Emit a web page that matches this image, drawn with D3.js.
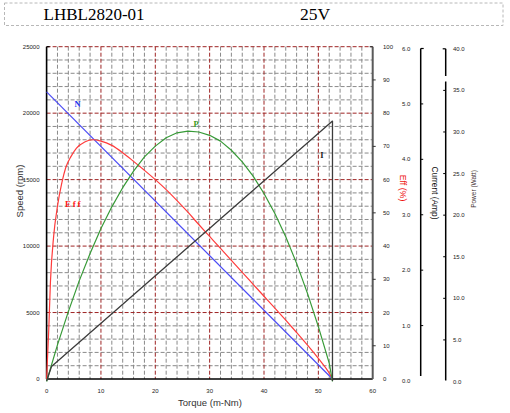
<!DOCTYPE html>
<html>
<head>
<meta charset="utf-8">
<script src="https://cdn.jsdelivr.net/npm/d3@7/dist/d3.min.js"></script>
<style>
  html, body { margin: 0; padding: 0; background: #fff; }
  svg { display: block; }
  text { font-family: "Liberation Sans", Arial, sans-serif; }
</style>
</head>
<body>
<svg id="chart" width="510" height="413"></svg>
<script>
// ---------------- data ----------------
const titleModel = "LHBL2820-01";
const titleVoltage = "25V";

const torqueTicks = [0, 10, 20, 30, 40, 50, 60];
const speedTicks = [0, 5000, 10000, 15000, 20000, 25000];
const effTicks = [0, 10, 20, 30, 40, 50, 60, 70, 80, 90, 100];
const currentTicks = [0, 1, 2, 3, 4, 5, 6];
const powerTicks = [0, 5, 10, 15, 20, 25, 30, 35, 40];

// Speed (N) vs torque
const torqueSpeed = [0, 52.6];
const speedValues = [21600, 0];

// Efficiency (Eff, %) vs torque
const torqueEff = [0, 0.4, 0.7, 1.3, 2, 2.8, 3.5, 4.5, 5.5, 7, 8.5, 10, 12, 14, 16, 18, 20, 22, 24, 26, 28, 30, 32, 34, 36, 38, 40, 42, 44, 46, 48, 50, 52, 52.6];
const effValues = [0, 15, 29, 43, 52, 59, 63.5, 67, 69.5, 71.3, 72, 71.6, 70.3, 68.1, 65.5, 62.8, 60.0, 57.0, 53.7, 50.2, 46.5, 42.9, 39.3, 35.7, 32.1, 28.5, 24.9, 21.3, 17.7, 14.0, 10.2, 6.2, 1.8, 0];

// Output power (P, Watt) vs torque
const torquePower = [0, 2, 4, 6, 8, 10, 12, 14, 16, 18, 20, 22, 24, 26, 28, 30, 32, 34, 36, 38, 40, 42, 44, 46, 48, 50, 52, 52.6];
const powerValues = [0, 4.4, 8.4, 12.1, 15.4, 18.4, 21, 23.3, 25.3, 27, 28.3, 29.3, 29.9, 30.1, 30, 29.6, 28.9, 27.8, 26.4, 24.7, 22.6, 20.2, 17.4, 14.2, 10.6, 6.6, 2.2, 0];

// Current (I, Amp) vs torque
const torqueCurrent = [0, 0.9, 52.6, 52.6];
const currentValues = [0, 0.26, 4.69, 0];

// ---------------- chart ----------------
const svg = d3.select("#chart");

const x = d3.scaleLinear().domain([0, 60]).range([46.6, 372.7]);
const ySpeed = d3.scaleLinear().domain([0, 25000]).range([379, 46.7]);
const yEff = d3.scaleLinear().domain([0, 100]).range([379, 46.7]);
const yCur = d3.scaleLinear().domain([0, 6]).range([381, 48.5]);
const yPow = d3.scaleLinear().domain([0, 40]).range([381.5, 48.8]);

// header box
svg.append("rect")
  .attr("x", 4.5).attr("y", 3).attr("width", 498.5).attr("height", 22.5)
  .attr("fill", "none").attr("stroke", "#b8b8b8").attr("stroke-width", 1)
  .attr("stroke-dasharray", "3,2");
svg.append("text").attr("x", 43.5).attr("y", 20)
  .style("font-family", "'Liberation Serif', 'Times New Roman', serif")
  .style("font-size", "17px").attr("fill", "#000").text(titleModel);
svg.append("text").attr("x", 300).attr("y", 20)
  .style("font-family", "'Liberation Serif', 'Times New Roman', serif")
  .style("font-size", "17.5px").attr("fill", "#000").text(titleVoltage);

// grid
const grid = svg.append("g");
const minorX = d3.range(2, 60, 2).filter(v => v % 10 !== 0);
const majorX = d3.range(10, 60, 10);
const minorY = d3.range(1000, 25000, 1000).filter(v => v % 5000 !== 0);
const majorY = d3.range(5000, 25001, 5000);

grid.selectAll(".gx").data(minorX).join("line")
  .attr("x1", d => x(d)).attr("x2", d => x(d))
  .attr("y1", ySpeed(25000)).attr("y2", ySpeed(0))
  .attr("stroke", "#8a8a8a").attr("stroke-width", 1).attr("stroke-dasharray", "4,2");
grid.selectAll(".gy").data(minorY).join("line")
  .attr("x1", x(0)).attr("x2", x(60))
  .attr("y1", d => ySpeed(d)).attr("y2", d => ySpeed(d))
  .attr("stroke", "#8a8a8a").attr("stroke-width", 1).attr("stroke-dasharray", "4,2");
grid.selectAll(".mx").data(majorX).join("line")
  .attr("x1", d => x(d)).attr("x2", d => x(d))
  .attr("y1", ySpeed(25000)).attr("y2", ySpeed(0))
  .attr("stroke", "#9e2424").attr("stroke-width", 1).attr("stroke-dasharray", "4,2");
grid.selectAll(".my").data(majorY).join("line")
  .attr("x1", x(0)).attr("x2", x(60))
  .attr("y1", d => ySpeed(d)).attr("y2", d => ySpeed(d))
  .attr("stroke", "#9e2424").attr("stroke-width", 1).attr("stroke-dasharray", "4,2");

// left axis (speed)
svg.append("line").attr("x1", x(0)).attr("x2", x(0))
  .attr("y1", ySpeed(25000)).attr("y2", ySpeed(0))
  .attr("stroke", "#000").attr("stroke-width", 1.6);
svg.append("line").attr("x1", x(0)).attr("x2", x(0) + 3)
  .attr("y1", ySpeed(25000)).attr("y2", ySpeed(25000))
  .attr("stroke", "#000").attr("stroke-width", 1.2);
svg.append("g").selectAll("text").data(speedTicks).join("text")
  .attr("x", 39.5).attr("y", d => ySpeed(d)).attr("dy", "0.35em")
  .attr("text-anchor", "end").style("font-size", "6px").attr("fill", "#222")
  .text(d => d);

// bottom axis
svg.append("line").attr("x1", x(0)).attr("x2", x(60))
  .attr("y1", ySpeed(0)).attr("y2", ySpeed(0))
  .attr("stroke", "#000").attr("stroke-width", 1.6);
svg.append("g").selectAll("text").data(torqueTicks).join("text")
  .attr("x", d => x(d)).attr("y", 391).attr("dy", "0.35em")
  .attr("text-anchor", "middle").style("font-size", "6px").attr("fill", "#222")
  .text(d => d);

// Eff axis (right of plot)
svg.append("line").attr("x1", x(60)).attr("x2", x(60))
  .attr("y1", yEff(100)).attr("y2", yEff(0))
  .attr("stroke", "#5a5a5a").attr("stroke-width", 2);
svg.append("line").attr("x1", x(60) - 3).attr("x2", x(60))
  .attr("y1", yEff(100)).attr("y2", yEff(100))
  .attr("stroke", "#333").attr("stroke-width", 1.2);
svg.append("g").selectAll("line").data(effTicks.filter(d => d % 20 === 10)).join("line")
  .attr("x1", x(60)).attr("x2", x(60) + 3)
  .attr("y1", d => yEff(d)).attr("y2", d => yEff(d))
  .attr("stroke", "#333").attr("stroke-width", 1);
svg.append("g").selectAll("text").data(effTicks).join("text")
  .attr("x", 383).attr("y", d => yEff(d)).attr("dy", "0.35em")
  .attr("text-anchor", "start").style("font-size", "6px").attr("fill", "#222")
  .text(d => d);

// Current axis
const curX = 420.7;
svg.append("line").attr("x1", curX).attr("x2", curX)
  .attr("y1", yCur(6)).attr("y2", 376)
  .attr("stroke", "#000").attr("stroke-width", 1.5);
svg.append("line").attr("x1", curX).attr("x2", curX + 3)
  .attr("y1", yCur(6)).attr("y2", yCur(6))
  .attr("stroke", "#000").attr("stroke-width", 1.2);
svg.append("g").selectAll("line").data(currentTicks.filter(d => d > 0 && d < 6)).join("line")
  .attr("x1", curX).attr("x2", curX + 2.5)
  .attr("y1", d => yCur(d)).attr("y2", d => yCur(d))
  .attr("stroke", "#000").attr("stroke-width", 1);
svg.append("g").selectAll("text").data(currentTicks).join("text")
  .attr("x", 402).attr("y", d => yCur(d)).attr("dy", "0.35em")
  .attr("text-anchor", "start").style("font-size", "6px").attr("fill", "#222")
  .text(d => d3.format(".1f")(d));

// Power axis
const powX = 445.7;
svg.append("line").attr("x1", powX).attr("x2", powX)
  .attr("y1", yPow(40)).attr("y2", 76)
  .attr("stroke", "#000").attr("stroke-width", 1.5);
svg.append("line").attr("x1", powX).attr("x2", powX)
  .attr("y1", 81.5).attr("y2", yPow(0) - 1)
  .attr("stroke", "#000").attr("stroke-width", 1.5);
svg.append("line").attr("x1", powX - 3).attr("x2", powX)
  .attr("y1", yPow(40)).attr("y2", yPow(40))
  .attr("stroke", "#000").attr("stroke-width", 1.2);
svg.append("g").selectAll("line").data(powerTicks.filter(d => d > 0 && d < 40)).join("line")
  .attr("x1", powX - 2.5).attr("x2", powX)
  .attr("y1", d => yPow(d)).attr("y2", d => yPow(d))
  .attr("stroke", "#000").attr("stroke-width", 1);
svg.append("g").selectAll("text").data(powerTicks).join("text")
  .attr("x", 453).attr("y", d => yPow(d)).attr("dy", "0.35em")
  .attr("text-anchor", "start").style("font-size", "6px").attr("fill", "#222")
  .text(d => d3.format(".1f")(d));

// axis titles
svg.append("text").attr("transform", "translate(210,403)")
  .attr("text-anchor", "middle").attr("dy", "0.35em")
  .style("font-size", "9.5px").attr("fill", "#333").text("Torque (m-Nm)");
svg.append("text").attr("transform", "translate(20,191) rotate(-90)")
  .attr("text-anchor", "middle").attr("dy", "0.35em")
  .style("font-size", "9.5px").attr("fill", "#333").text("Speed (rpm)");
svg.append("text").attr("transform", "translate(403,188) rotate(90)")
  .attr("text-anchor", "middle").attr("dy", "0.35em")
  .style("font-size", "8.8px").attr("fill", "#ee1111").text("Eff (%)");
svg.append("text").attr("transform", "translate(435,193) rotate(90)")
  .attr("text-anchor", "middle").attr("dy", "0.35em")
  .style("font-size", "8.4px").attr("fill", "#111").text("Current (Amp)");
svg.append("text").attr("transform", "translate(474,189) rotate(-90)")
  .attr("text-anchor", "middle").attr("dy", "0.35em")
  .style("font-size", "6.5px").attr("fill", "#433").text("Power (Watt)");

// curves
const curves = svg.append("g").attr("fill", "none").attr("stroke-linejoin", "round");

const speedLine = d3.line().x(d => x(d[0])).y(d => ySpeed(d[1]));
curves.append("path").datum(d3.zip(torqueSpeed, speedValues))
  .attr("d", speedLine).attr("stroke", "#4b4bf5").attr("stroke-width", 1.2);

const effLine = d3.line().x(d => x(d[0])).y(d => yEff(d[1])).curve(d3.curveMonotoneX);
curves.append("path").datum(d3.zip(torqueEff, effValues))
  .attr("d", effLine).attr("stroke", "#ff3b3b").attr("stroke-width", 1.2);

const powLine = d3.line().x(d => x(d[0])).y(d => yPow(d[1]));
curves.append("path").datum(d3.zip(torquePower, powerValues))
  .attr("d", powLine).attr("stroke", "#379a37").attr("stroke-width", 1.2);

const curLine = d3.line().x(d => x(d[0])).y(d => yCur(d[1]));
curves.append("path").datum(d3.zip(torqueCurrent, currentValues))
  .attr("d", curLine).attr("stroke", "#3c3c3c").attr("stroke-width", 1.3);

// curve labels
const serif = "'Liberation Serif', 'Times New Roman', serif";
svg.append("text").attr("x", 77.5).attr("y", 107).attr("text-anchor", "middle")
  .style("font-family", serif).style("font-weight", "bold").style("font-size", "8.5px")
  .attr("fill", "#2233ee").text("N");
svg.append("text").attr("x", 65).attr("y", 207)
  .style("font-family", serif).style("font-weight", "bold").style("font-size", "9px")
  .style("letter-spacing", "1.8px").attr("fill", "#ff1a1a").text("Eff");
svg.append("text").attr("x", 196).attr("y", 126.5).attr("text-anchor", "middle")
  .style("font-family", serif).style("font-weight", "bold").style("font-size", "8.5px")
  .attr("fill", "#3a9a22").text("P");
svg.append("text").attr("x", 322).attr("y", 157.5).attr("text-anchor", "middle")
  .style("font-family", serif).style("font-weight", "bold").style("font-size", "8.5px")
  .attr("fill", "#222").text("I");
</script>
</body>
</html>
